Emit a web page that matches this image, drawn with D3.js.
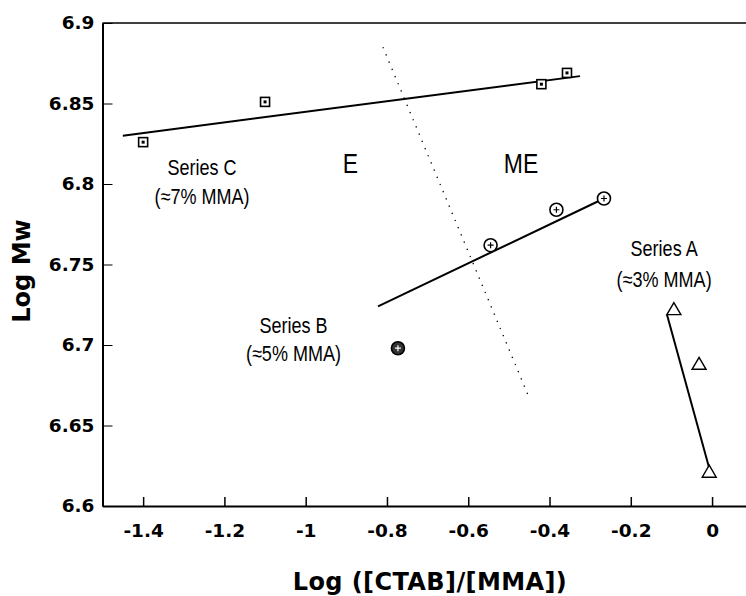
<!DOCTYPE html>
<html>
<head>
<meta charset="utf-8">
<script src="https://cdn.jsdelivr.net/npm/d3@7"></script>
<style>
  body { margin: 0; background: #fff; }
  svg { display: block; }
  .tick text { font-family: "DejaVu Sans", sans-serif; font-weight: bold; font-size: 18.5px; fill: #000; }
  .note { font-family: "Liberation Sans", Arial, sans-serif; fill: #000; }
  .title { font-family: "DejaVu Sans", sans-serif; font-weight: bold; font-size: 24px; fill: #000; }
</style>
</head>
<body>
<svg id="chart" width="746" height="596"></svg>
<script>
// data
var seriesA_x = [-0.094, -0.032, -0.007];
var seriesA_y = [6.722, 6.688, 6.621];
var seriesB_x = [-0.773, -0.545, -0.383, -0.266];
var seriesB_y = [6.698, 6.762, 6.784, 6.791];
var seriesC_x = [-1.40, -1.10, -0.42, -0.357];
var seriesC_y = [6.826, 6.851, 6.862, 6.869];

// fitted lines, end points
var fitA = [[-0.111, 6.719], [-0.002, 6.619]];
var fitB = [[-0.822, 6.724], [-0.266, 6.791]];
var fitC = [[-1.45, 6.830], [-0.325, 6.867]];
// E / ME boundary (dotted)
var boundary = [[-0.81, 6.885], [-0.448, 6.666]];

var xTicks = [-1.4, -1.2, -1, -0.8, -0.6, -0.4, -0.2, 0];
var yTicks = [6.6, 6.65, 6.7, 6.75, 6.8, 6.85, 6.9];

var notes = [
  { text: ["Series C", "(\u22487% MMA)"], x: -1.255, y: 6.8056, gap: 29 },
  { text: ["Series B", "(\u22485% MMA)"], x: -1.03, y: 6.7075, gap: 28 },
  { text: ["Series A", "(\u22483% MMA)"], x: -0.118, y: 6.7555, gap: 31 }
];
var regions = [
  { text: "E", x: -0.89 },
  { text: "ME", x: -0.47 }
];

var svg = d3.select("#chart");
var x = d3.scaleLinear().domain([-1.5, 0.1]).range([102.5, 752.7]);
var y = d3.scaleLinear().domain([6.6, 6.9]).range([506, 23]);

// top border
svg.append("line")
  .attr("x1", x(-1.5)).attr("x2", x(0.1))
  .attr("y1", y(6.9)).attr("y2", y(6.9))
  .attr("stroke", "#000").attr("stroke-width", 1.5);

var xAxis = svg.append("g")
  .attr("transform", "translate(0," + y(6.6) + ")")
  .call(d3.axisBottom(x).tickValues(xTicks).tickSizeInner(-9).tickSizeOuter(0).tickPadding(18)
    .tickFormat(function (d) { return d3.format("")(d).replace("\u2212", "-"); }));
xAxis.select(".domain").attr("stroke-width", 2);
xAxis.selectAll(".tick line").attr("stroke-width", 1.5);

var yAxis = svg.append("g")
  .attr("transform", "translate(" + x(-1.5) + ",0)")
  .call(d3.axisLeft(y).tickValues(yTicks).tickSizeInner(-10).tickSizeOuter(0).tickPadding(8)
    .tickFormat(d3.format("")));
yAxis.select(".domain").attr("stroke-width", 2);
yAxis.selectAll(".tick line").attr("stroke-width", 1);

// axis titles
svg.append("text").attr("class", "title")
  .attr("x", 430).attr("y", 590).attr("text-anchor", "middle")
  .style("letter-spacing", "0.4px")
  .text("Log ([CTAB]/[MMA])");
svg.append("text").attr("class", "title")
  .attr("transform", "translate(30,271) rotate(-90)")
  .attr("text-anchor", "middle")
  .text("Log Mw");

var line = d3.line().x(function (d) { return x(d[0]); }).y(function (d) { return y(d[1]); });

svg.append("path").datum(boundary)
  .attr("d", line).attr("fill", "none")
  .attr("stroke", "#000").attr("stroke-width", 1.3)
  .attr("stroke-dasharray", "1.3,6.5");

[fitA, fitB, fitC].forEach(function (f) {
  svg.append("path").datum(f)
    .attr("d", line).attr("fill", "none")
    .attr("stroke", "#000").attr("stroke-width", 2);
});

// series C: squares
var sq = svg.append("g").selectAll("g")
  .data(d3.zip(seriesC_x, seriesC_y)).enter().append("g")
  .attr("transform", function (d) { return "translate(" + x(d[0]) + "," + y(d[1]) + ")"; });
sq.append("rect").attr("x", -4.5).attr("y", -4.5).attr("width", 9).attr("height", 9)
  .attr("fill", "#fff").attr("stroke", "#000").attr("stroke-width", 1.6);
sq.append("rect").attr("x", -1.5).attr("y", -1.5).attr("width", 3).attr("height", 3)
  .attr("fill", "#000");

// series B: circles
var ci = svg.append("g").selectAll("g")
  .data(d3.zip(seriesB_x, seriesB_y)).enter().append("g")
  .attr("transform", function (d) { return "translate(" + x(d[0]) + "," + y(d[1]) + ")"; });
ci.append("circle").attr("r", 6.5)
  .attr("fill", function (d, i) { return i === 0 ? "#333" : "#fff"; })
  .attr("stroke", "#000").attr("stroke-width", 1.6);
ci.append("path").attr("d", "M-3,0H3M0,-3V3")
  .attr("stroke", function (d, i) { return i === 0 ? "#fff" : "#000"; })
  .attr("stroke-width", 1.2);

// series A: triangles
svg.append("g").selectAll("path")
  .data(d3.zip(seriesA_x, seriesA_y)).enter().append("path")
  .attr("transform", function (d) { return "translate(" + x(d[0]) + "," + y(d[1]) + ")"; })
  .attr("d", "M0,-7L7,5H-7Z")
  .attr("fill", "#fff").attr("stroke", "#000").attr("stroke-width", 1.4);

// annotations (narrow type, squeezed horizontally)
notes.forEach(function (n) {
  var t = svg.append("text").attr("class", "note")
    .attr("transform", "translate(" + x(n.x) + "," + y(n.y) + ") scale(0.82,1)")
    .attr("text-anchor", "middle").style("font-size", "22px");
  n.text.forEach(function (s, i) {
    t.append("tspan").attr("x", 0).attr("dy", i === 0 ? 0 : n.gap).text(s);
  });
});
regions.forEach(function (r) {
  svg.append("text").attr("class", "note")
    .attr("transform", "translate(" + x(r.x) + ",173) scale(0.82,1)")
    .attr("text-anchor", "middle").style("font-size", "28px")
    .text(r.text);
});
</script>
</body>
</html>
